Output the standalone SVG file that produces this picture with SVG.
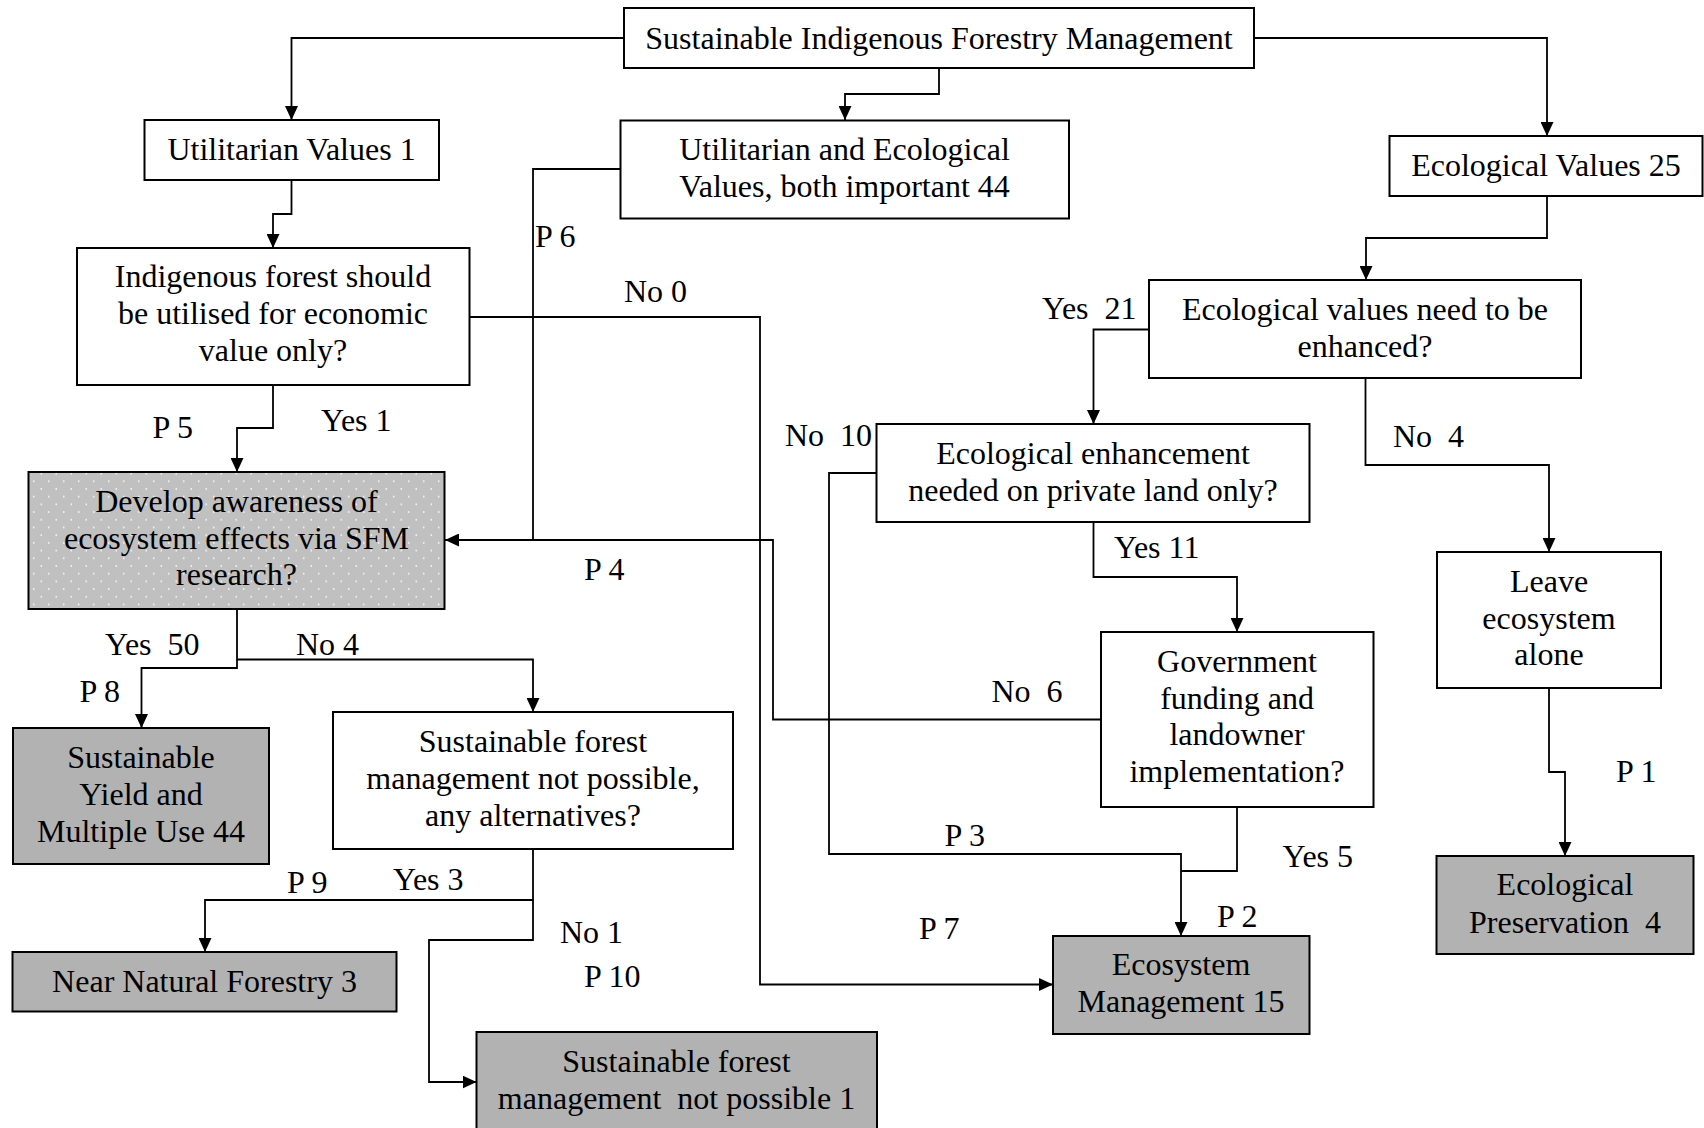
<svg xmlns="http://www.w3.org/2000/svg" width="1704" height="1128" viewBox="0 0 1704 1128">
<style>
.box{fill:#fff;stroke:#000;stroke-width:2}
.g{fill:#b2b2b2;stroke:#000;stroke-width:2}
.t{font-family:"Liberation Serif","Times New Roman",serif;font-size:32px;fill:#000;text-anchor:middle}
.l{font-family:"Liberation Serif","Times New Roman",serif;font-size:32px;fill:#000}
.c{fill:none;stroke:#000;stroke-width:1.8}
</style>
<defs>
<marker id="ar" viewBox="0 0 14 13" markerWidth="14" markerHeight="13" refX="14" refY="6.5" orient="auto" markerUnits="userSpaceOnUse">
<path d="M0,0 L14,6.5 L0,13 z" fill="#000"/>
</marker>
<pattern id="dots" width="15" height="15.4" patternUnits="userSpaceOnUse">
<rect width="15" height="15.4" fill="#c0c0c0"/>
<circle cx="3.75" cy="3.85" r="0.9" fill="#f4f4f4"/>
<circle cx="11.25" cy="11.55" r="0.9" fill="#f4f4f4"/>
</pattern>
</defs>
<rect width="1704" height="1128" fill="#fff"/>

<g id="connectors">
<path class="c" d="M624,38 H291.5 V120" marker-end="url(#ar)"/>
<path class="c" d="M939,68 V94 H845 V120" marker-end="url(#ar)"/>
<path class="c" d="M1254,38 H1547 V136" marker-end="url(#ar)"/>
<path class="c" d="M291.5,180 V214 H273 V248" marker-end="url(#ar)"/>
<path class="c" d="M273,385 V428 H237 V472" marker-end="url(#ar)"/>
<path class="c" d="M469.5,317 H760 V984.5 H1053" marker-end="url(#ar)"/>
<path class="c" d="M620,169 H533 V540"/>
<path class="c" d="M1101,719.5 H773 V540 H445" marker-end="url(#ar)"/>
<path class="c" d="M1547,196 V238 H1366 V280" marker-end="url(#ar)"/>
<path class="c" d="M1149,329.5 H1093.5 V424" marker-end="url(#ar)"/>
<path class="c" d="M1365.5,378 V465 H1549 V552" marker-end="url(#ar)"/>
<path class="c" d="M876,473 H829 V854 H1181 V936" marker-end="url(#ar)"/>
<path class="c" d="M1093.5,522 V577 H1237 V632" marker-end="url(#ar)"/>
<path class="c" d="M1237,807 V871 H1181"/>
<path class="c" d="M1549,688 V772 H1565 V856" marker-end="url(#ar)"/>
<path class="c" d="M237,609 V668 H141.5 V728" marker-end="url(#ar)"/>
<path class="c" d="M237,659.5 H533 V712" marker-end="url(#ar)"/>
<path class="c" d="M533,849 V900 H205 V952" marker-end="url(#ar)"/>
<path class="c" d="M533,900 V940 H429 V1082 H476.5" marker-end="url(#ar)"/>
</g>

<g id="labels">
<text class="l" x="535" y="247">P 6</text>
<text class="l" x="624" y="302">No 0</text>
<text class="l" x="1042" y="319">Yes&#160; 21</text>
<text class="l" x="152.5" y="438">P 5</text>
<text class="l" x="321" y="431">Yes 1</text>
<text class="l" x="785" y="446">No&#160; 10</text>
<text class="l" x="1393" y="447">No&#160; 4</text>
<text class="l" x="1114" y="558">Yes 11</text>
<text class="l" x="584" y="580">P 4</text>
<text class="l" x="105" y="655">Yes&#160; 50</text>
<text class="l" x="296" y="655">No 4</text>
<text class="l" x="79.5" y="702">P 8</text>
<text class="l" x="991.5" y="702">No&#160; 6</text>
<text class="l" x="1616" y="782">P 1</text>
<text class="l" x="944.5" y="846">P 3</text>
<text class="l" x="1282.5" y="867">Yes 5</text>
<text class="l" x="287" y="893">P 9</text>
<text class="l" x="393" y="890">Yes 3</text>
<text class="l" x="1217" y="927">P 2</text>
<text class="l" x="919" y="939">P 7</text>
<text class="l" x="560" y="943">No 1</text>
<text class="l" x="584" y="987">P 10</text>
</g>

<g id="n-top">
<rect class="box" x="624" y="8" width="630" height="60"/>
<text class="t" x="939" y="49">Sustainable Indigenous Forestry Management</text>
</g>
<g id="n-utilitarian">
<rect class="box" x="144.5" y="120" width="294.5" height="60"/>
<text class="t" x="291.5" y="160">Utilitarian Values 1</text>
</g>
<g id="n-both">
<rect class="box" x="620.5" y="120.5" width="448.5" height="98"/>
<text class="t" x="844.5" y="160">Utilitarian and Ecological</text>
<text class="t" x="844.5" y="197">Values, both important 44</text>
</g>
<g id="n-ecological">
<rect class="box" x="1389.5" y="136" width="313" height="60"/>
<text class="t" x="1546" y="176">Ecological Values 25</text>
</g>
<g id="n-indigenous">
<rect class="box" x="77" y="248" width="392.5" height="137"/>
<text class="t" x="273" y="287">Indigenous forest should</text>
<text class="t" x="273" y="324">be utilised for economic</text>
<text class="t" x="273" y="361">value only?</text>
</g>
<g id="n-enhanced">
<rect class="box" x="1149" y="280" width="432" height="98"/>
<text class="t" x="1365" y="320">Ecological values need to be</text>
<text class="t" x="1365" y="357">enhanced?</text>
</g>
<g id="n-develop">
<rect x="28.5" y="472" width="416" height="137" fill="url(#dots)" stroke="#000" stroke-width="2"/>
<text class="t" x="236.5" y="512">Develop awareness of</text>
<text class="t" x="236.5" y="548.5">ecosystem effects via SFM</text>
<text class="t" x="236.5" y="585">research?</text>
</g>
<g id="n-private">
<rect class="box" x="876.5" y="424" width="433" height="98"/>
<text class="t" x="1093" y="464">Ecological enhancement</text>
<text class="t" x="1093" y="501">needed on private land only?</text>
</g>
<g id="n-leave">
<rect class="box" x="1437" y="552" width="224" height="136"/>
<text class="t" x="1549" y="592">Leave</text>
<text class="t" x="1549" y="628.5">ecosystem</text>
<text class="t" x="1549" y="665">alone</text>
</g>
<g id="n-government">
<rect class="box" x="1101" y="632" width="272.5" height="175"/>
<text class="t" x="1237" y="672">Government</text>
<text class="t" x="1237" y="708.5">funding and</text>
<text class="t" x="1237" y="745">landowner</text>
<text class="t" x="1237" y="782">implementation?</text>
</g>
<g id="n-syield">
<rect class="g" x="13" y="728" width="256" height="136"/>
<text class="t" x="141" y="768">Sustainable</text>
<text class="t" x="141" y="805">Yield and</text>
<text class="t" x="141" y="842">Multiple Use 44</text>
</g>
<g id="n-alternatives">
<rect class="box" x="333" y="712" width="400" height="137"/>
<text class="t" x="533" y="752">Sustainable forest</text>
<text class="t" x="533" y="789">management not possible,</text>
<text class="t" x="533" y="826">any alternatives?</text>
</g>
<g id="n-preservation">
<rect class="g" x="1436.5" y="856" width="257" height="98"/>
<text class="t" x="1565" y="895">Ecological</text>
<text class="t" x="1565" y="933">Preservation&#160; 4</text>
</g>
<g id="n-ecomgmt">
<rect class="g" x="1053" y="936" width="256.5" height="98"/>
<text class="t" x="1181" y="975">Ecosystem</text>
<text class="t" x="1181" y="1012">Management 15</text>
</g>
<g id="n-nearnatural">
<rect class="g" x="12.5" y="952" width="384" height="59.5"/>
<text class="t" x="204.5" y="992">Near Natural Forestry 3</text>
</g>
<g id="n-notpossible">
<rect class="g" x="476.5" y="1032" width="400.5" height="110"/>
<text class="t" x="676.5" y="1072">Sustainable forest</text>
<text class="t" x="676.5" y="1109">management&#160; not possible 1</text>
</g>
</svg>
